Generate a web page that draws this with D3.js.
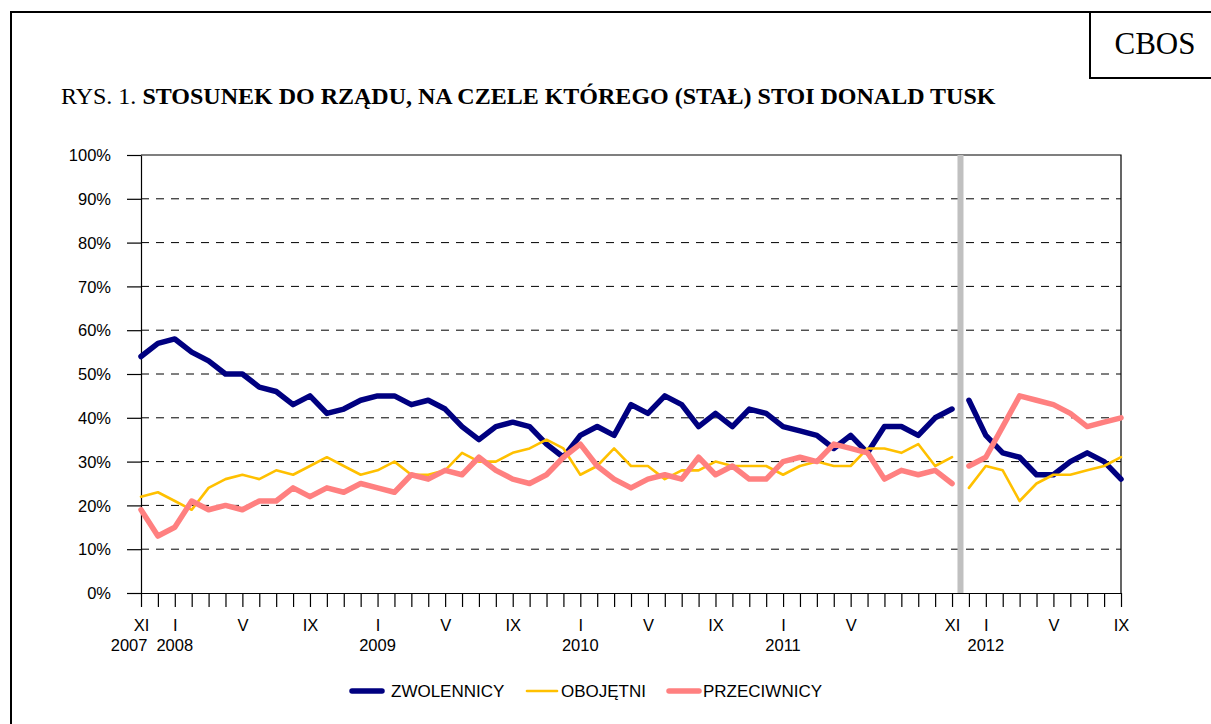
<!DOCTYPE html>
<html>
<head>
<meta charset="utf-8">
<script src="https://cdn.jsdelivr.net/npm/d3@7"></script>
<style>
  html, body { margin: 0; padding: 0; background: #fff; }
  svg { display: block; }
</style>
</head>
<body>
<div id="chart"></div>
<script>
// months XI 2007 .. IX 2012
const months = ['XI', 'XII',
  'I', 'II', 'III', 'IV', 'V', 'VI', 'VII', 'VIII', 'IX', 'X', 'XI', 'XII',
  'I', 'II', 'III', 'IV', 'V', 'VI', 'VII', 'VIII', 'IX', 'X', 'XI', 'XII',
  'I', 'II', 'III', 'IV', 'V', 'VI', 'VII', 'VIII', 'IX', 'X', 'XI', 'XII',
  'I', 'II', 'III', 'IV', 'V', 'VI', 'VII', 'VIII', 'IX', 'X', 'XI', 'XII',
  'I', 'II', 'III', 'IV', 'V', 'VI', 'VII', 'VIII', 'IX'];
const labelIdx = [0, 2, 6, 10, 14, 18, 22, 26, 30, 34, 38, 42, 48, 50, 54, 58];
const yearLabels = [[0, '2007'], [2, '2008'], [14, '2009'], [26, '2010'], [38, '2011'], [50, '2012']];
const splitIdx = 49; // second government starts XII 2011

const zwolennicy = [54, 57, 58, 55, 53, 50, 50, 47, 46, 43, 45, 41, 42, 44, 45, 45, 43, 44, 42, 38,
  35, 38, 39, 38, 34, 31, 36, 38, 36, 43, 41, 45, 43, 38, 41, 38, 42, 41, 38, 37,
  36, 33, 36, 32, 38, 38, 36, 40, 42, 44, 36, 32, 31, 27, 27, 30, 32, 30, 26];
const obojetni = [22, 23, 21, 19, 24, 26, 27, 26, 28, 27, 29, 31, 29, 27, 28, 30, 27, 27, 28, 32,
  30, 30, 32, 33, 35, 33, 27, 29, 33, 29, 29, 26, 28, 28, 30, 29, 29, 29, 27, 29,
  30, 29, 29, 33, 33, 32, 34, 29, 31, 24, 29, 28, 21, 25, 27, 27, 28, 29, 31];
const przeciwnicy = [19, 13, 15, 21, 19, 20, 19, 21, 21, 24, 22, 24, 23, 25, 24, 23, 27, 26, 28, 27,
  31, 28, 26, 25, 27, 31, 34, 29, 26, 24, 26, 27, 26, 31, 27, 29, 26, 26, 30, 31,
  30, 34, 33, 32, 26, 28, 27, 28, 25, 29, 31, 38, 45, 44, 43, 41, 38, 39, 40];

const seriesNames = ['ZWOLENNICY', 'OBOJĘTNI', 'PRZECIWNICY'];
const seriesColors = ['#000080', '#FFC000', '#FF8080'];
const seriesWidths = [5.5, 2.6, 5.5];
const yTicks = [0, 10, 20, 30, 40, 50, 60, 70, 80, 90, 100];

const width = 1211;
const height = 724;
const plot = {left: 141, right: 1121, top: 155, bottom: 593};
const axisFont = '"Liberation Sans", Arial, sans-serif';
const serifFont = '"Liberation Serif", "Times New Roman", serif';

const svg = d3.select('#chart').append('svg')
  .attr('width', width)
  .attr('height', height);

// outer frame and CBOS box
svg.append('path')
  .attr('d', `M11,${height + 5} L11,12 L${width + 5},12`)
  .attr('fill', 'none').attr('stroke', '#000').attr('stroke-width', 2);
svg.append('path')
  .attr('d', `M1090,12 L1090,78 L${width + 5},78`)
  .attr('fill', 'none').attr('stroke', '#000').attr('stroke-width', 2);
svg.append('text')
  .attr('x', 1155).attr('y', 54)
  .attr('text-anchor', 'middle')
  .style('font-family', serifFont)
  .style('font-size', '31px')
  .text('CBOS');

// title
const title = svg.append('text')
  .attr('x', 61).attr('y', 104)
  .style('font-family', serifFont)
  .style('font-size', '24px');
title.append('tspan').text('RYS. 1. ');
title.append('tspan').style('font-weight', 'bold')
  .text('STOSUNEK DO RZĄDU, NA CZELE KTÓREGO (STAŁ) STOI DONALD TUSK');

const x = d3.scalePoint()
  .domain(d3.range(months.length))
  .range([plot.left, plot.right]);
const y = d3.scaleLinear()
  .domain([0, 100])
  .range([plot.bottom, plot.top]);

const g = svg.append('g');

// grid lines
g.append('g').selectAll('line')
  .data(yTicks.filter(d => d > 0 && d < 100))
  .enter().append('line')
  .attr('x1', plot.left).attr('x2', plot.right)
  .attr('y1', d => y(d)).attr('y2', d => y(d))
  .attr('stroke', '#000')
  .attr('stroke-width', 1)
  .attr('stroke-dasharray', '8,7');

// top and right border of plot area
g.append('path')
  .attr('d', `M${plot.left},${y(100)} L${plot.right},${y(100)} L${plot.right},${y(0)}`)
  .attr('fill', 'none').attr('stroke', '#000').attr('stroke-width', 1.2);

// separator between governments
const sepX = (x(splitIdx - 1) + x(splitIdx)) / 2;
g.append('rect')
  .attr('x', sepX - 3).attr('y', y(100))
  .attr('width', 6).attr('height', y(0) - y(100))
  .attr('fill', '#C0C0C0');

// axes
const yAxis = g.append('g')
  .attr('transform', `translate(${plot.left},0)`)
  .call(d3.axisLeft(y).tickValues(yTicks).tickFormat(d => d + '%').tickSize(14).tickSizeOuter(0).tickPadding(16));
const xAxis = g.append('g')
  .attr('transform', `translate(0,${plot.bottom})`)
  .call(d3.axisBottom(x)
    .tickFormat(i => labelIdx.includes(i) ? months[i] : '')
    .tickSize(14).tickSizeOuter(0).tickPadding(12.5));
[yAxis, xAxis].forEach(a => {
  a.selectAll('text').style('font-family', axisFont).style('font-size', '16.5px').attr('fill', '#000');
  a.selectAll('line, path').attr('stroke', '#000').attr('stroke-width', 1.2);
});
yAxis.selectAll('text').attr('dy', '0.35em');

// year labels, shifted left when they would touch the next one
const years = g.append('g').selectAll('text')
  .data(yearLabels)
  .enter().append('text')
  .attr('x', d => x(d[0]))
  .attr('y', 651)
  .attr('text-anchor', 'middle')
  .style('font-family', axisFont)
  .style('font-size', '16.5px')
  .text(d => d[1]);
const yNodes = years.nodes();
for (let k = yNodes.length - 2; k >= 0; k--) {
  const a = yNodes[k].getBBox();
  const b = yNodes[k + 1].getBBox();
  const overlap = a.x + a.width + 9 - b.x;
  if (overlap > 0) yNodes[k].setAttribute('x', +yNodes[k].getAttribute('x') - overlap);
}

// series
const allSeries = [zwolennicy, obojetni, przeciwnicy];
const line = d3.line()
  .x(d => x(d.i))
  .y(d => y(d.v));

allSeries.forEach((vals, s) => {
  const pts = vals.map((v, i) => ({i, v}));
  [pts.slice(0, splitIdx), pts.slice(splitIdx)].forEach(seg => {
    g.append('path')
      .datum(seg)
      .attr('d', line)
      .attr('fill', 'none')
      .attr('stroke', seriesColors[s])
      .attr('stroke-width', seriesWidths[s])
      .attr('stroke-linejoin', 'round')
      .attr('stroke-linecap', 'round');
  });
});

// legend
const legendX = [352, 527, 669];
const legend = svg.append('g');
seriesNames.forEach((name, s) => {
  legend.append('line')
    .attr('x1', legendX[s]).attr('x2', legendX[s] + 30)
    .attr('y1', 691).attr('y2', 691)
    .attr('stroke', seriesColors[s])
    .attr('stroke-width', seriesWidths[s])
    .attr('stroke-linecap', 'round');
  legend.append('text')
    .attr('x', legendX[s] + [39, 34, 34][s])
    .attr('y', 697)
    .style('font-family', axisFont)
    .style('font-size', '17px')
    .text(name);
});
</script>
</body>
</html>
